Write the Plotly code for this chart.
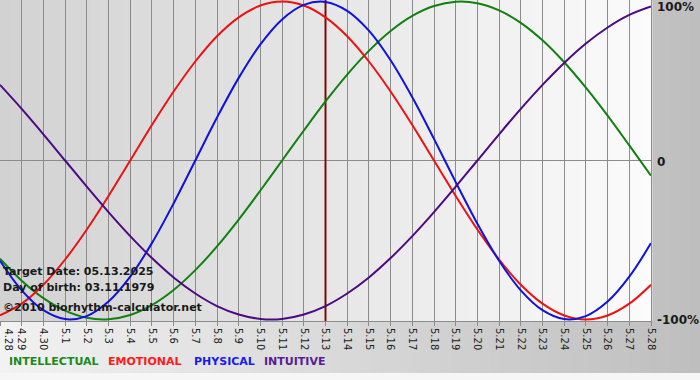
import plotly.graph_objects as go

# ---- data ----
days = ["4.28", "4.29", "4.30", "5.1", "5.2", "5.3", "5.4", "5.5", "5.6", "5.7",
        "5.8", "5.9", "5.10", "5.11", "5.12", "5.13", "5.14", "5.15", "5.16", "5.17",
        "5.18", "5.19", "5.20", "5.21", "5.22", "5.23", "5.24", "5.25", "5.26", "5.27", "5.28"]
target_day = "5.13"

intellectual = [-0.618, -0.756, -0.866, -0.945, -0.990, -0.999, -0.972, -0.910, -0.815, -0.690,
                -0.541, -0.372, -0.189, 0.000, 0.189, 0.372, 0.541, 0.690, 0.815, 0.910,
                0.972, 0.999, 0.990, 0.945, 0.866, 0.756, 0.618, 0.458, 0.282, 0.095, -0.095]
emotional = [-0.975, -0.901, -0.782, -0.623, -0.434, -0.223, 0.000, 0.223, 0.434, 0.623,
             0.782, 0.901, 0.975, 1.000, 0.975, 0.901, 0.782, 0.623, 0.434, 0.223,
             0.000, -0.223, -0.434, -0.623, -0.782, -0.901, -0.975, -1.000, -0.975, -0.901, -0.782]
physical = [-0.631, -0.817, -0.942, -0.998, -0.979, -0.888, -0.731, -0.520, -0.270, 0.000,
            0.270, 0.520, 0.731, 0.888, 0.979, 0.998, 0.942, 0.817, 0.631, 0.398,
            0.136, -0.136, -0.398, -0.631, -0.817, -0.942, -0.998, -0.979, -0.888, -0.731, -0.520]
intuitive = [0.476, 0.325, 0.165, 0.000, -0.165, -0.325, -0.476, -0.614, -0.736, -0.837,
             -0.916, -0.969, -0.997, -0.997, -0.969, -0.916, -0.837, -0.736, -0.614, -0.476,
             -0.325, -0.165, 0.000, 0.165, 0.325, 0.476, 0.614, 0.736, 0.837, 0.916, 0.969]

series_names = ["INTELLECTUAL", "EMOTIONAL", "PHYSICAL", "INTUITIVE"]
series_values = [intellectual, emotional, physical, intuitive]
line_colors = ["#118011", "#ee1111", "#1111dd", "#4b0a82"]
label_colors = ["#1a8a1a", "#ff1a1a", "#1a1aee", "#5a1a96"]

y_labels = ["100%", "0", "-100%"]
y_label_vals = [1, 0, -1]

info_lines = ["Target Date: 05.13.2025", "Day of birth: 03.11.1979", "©2010 biorhythm-calculator.net"]

# ---- figure ----
W, H = 700, 380
ML, MR, MT, MB = 0, 49, 0, 59
PW, PH = W - ML - MR, H - MT - MB   # plot area size in px
YR = 1.01
FONT = "DejaVu Sans"


def px_x(px):
    return (px - ML) / PW


def px_y(py):
    return 1 - (py - MT) / PH


xs = list(range(len(days)))
t_idx = days.index(target_day)

fig = go.Figure()

# target date line (under the curves)
fig.add_trace(go.Scatter(x=[t_idx, t_idx], y=[-YR, YR], mode="lines",
                         line=dict(color="#7a0a0a", width=2), hoverinfo="skip"))

for name, vals, col in zip(series_names, series_values, line_colors):
    fig.add_trace(go.Scatter(x=xs, y=vals, mode="lines", name=name,
                             line=dict(color=col, width=2, shape="spline", smoothing=1.0)))

shapes = []


def lerp(c0, c1, t):
    return "rgb(%d,%d,%d)" % tuple(round(a + (b - a) * t) for a, b in zip(c0, c1))


# paper background gradient
N = 70
for i in range(N):
    shapes.append(dict(type="rect", xref="paper", yref="paper",
                       x0=px_x(i * W / N), x1=px_x((i + 1) * W / N + 1), y0=px_y(H), y1=px_y(0),
                       fillcolor=lerp((242, 242, 242), (190, 190, 190), (i + 0.5) / N),
                       line=dict(width=0), layer="below"))
# light strip at the very bottom
shapes.append(dict(type="rect", xref="paper", yref="paper", x0=px_x(0), x1=px_x(W),
                   y0=px_y(H), y1=px_y(H - 7), fillcolor="rgb(246,246,246)",
                   line=dict(width=0), layer="below"))

# plot area gradient
M = 65
for i in range(M):
    shapes.append(dict(type="rect", xref="x domain", yref="y domain",
                       x0=i / M, x1=(i + 1) / M + 0.002, y0=0, y1=1,
                       fillcolor=lerp((210, 210, 210), (251, 251, 251), (i + 0.5) / M),
                       line=dict(width=0), layer="below"))

annotations = []
# right side labels
for txt, v, ys in zip(y_labels, y_label_vals, [-5, -1, -1]):
    annotations.append(dict(text="<b>%s</b>" % txt, xref="paper", yref="y",
                            x=px_x(655), y=v, xanchor="left", yanchor="middle", yshift=ys,
                            showarrow=False, font=dict(family=FONT, size=12, color="#1a1a1a")))

# first date label sits on the left edge (plotly hides that tick label); kept just inside the page
annotations.append(dict(text=days[0], xref="x", yref="paper", x=0, y=px_y(326),
                        xanchor="left", yanchor="top", textangle=90, showarrow=False,
                        font=dict(family=FONT, size=10, color="#222222")))

# info text
for txt, py in zip(info_lines, [271, 287, 307]):
    annotations.append(dict(text="<b>%s</b>" % txt, xref="paper", yref="paper",
                            x=px_x(1), y=px_y(py), xanchor="left", yanchor="middle",
                            showarrow=False, font=dict(family=FONT, size=11, color="#1a1a1a")))

# legend labels
for txt, col, px in zip(series_names, label_colors, [7, 106, 192, 262]):
    annotations.append(dict(text="<b>%s</b>" % txt, xref="paper", yref="paper",
                            x=px_x(px), y=px_y(361), xanchor="left", yanchor="middle",
                            showarrow=False, font=dict(family=FONT, size=11, color=col)))

fig.update_layout(
    width=W, height=H,
    margin=dict(l=ML, r=MR, t=MT, b=MB, pad=0, autoexpand=False),
    paper_bgcolor="rgba(0,0,0,0)",
    plot_bgcolor="rgba(0,0,0,0)",
    showlegend=False,
    shapes=shapes,
    annotations=annotations,
    font=dict(family=FONT),
    xaxis=dict(range=[0, len(days) - 1], tickmode="array", tickvals=xs, ticktext=days,
               tickangle=90, tickfont=dict(family=FONT, size=10, color="#222222"),
               showgrid=True, gridcolor="#8c8c8c", gridwidth=1,
               showline=True, linecolor="#8c8c8c", linewidth=1,
               ticks="outside", ticklen=4, tickcolor="#8c8c8c",
               zeroline=False, fixedrange=True, automargin=False),
    yaxis=dict(range=[-YR, YR], showgrid=False, showticklabels=False,
               zeroline=True, zerolinecolor="#8c8c8c", zerolinewidth=1,
               showline=True, mirror=True, linecolor="#8c8c8c", linewidth=1,
               ticks="", fixedrange=True, automargin=False),
)

fig.write_html("out.html", config={"displayModeBar": False},
               post_script="document.body.style.margin='0';document.body.style.overflow='hidden';")
